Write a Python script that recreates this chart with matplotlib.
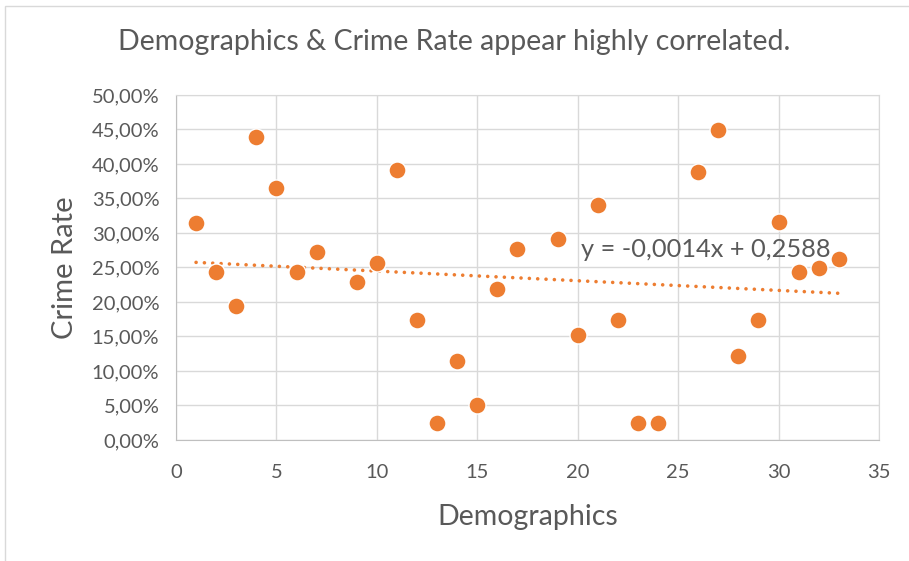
import numpy as np
import matplotlib.pyplot as plt
from matplotlib.patches import Rectangle
from matplotlib.ticker import FuncFormatter, MultipleLocator

# data
demographics = [1, 2, 3, 4, 5, 6, 7, 9, 10, 11, 12, 13, 14, 15, 16, 17,
                19, 20, 21, 22, 23, 24, 26, 27, 28, 29, 30, 31, 32, 33]
crime_rate = [0.315, 0.243, 0.194, 0.439, 0.365, 0.243, 0.272, 0.229, 0.256, 0.391,
              0.174, 0.024, 0.115, 0.050, 0.219, 0.277,
              0.292, 0.152, 0.341, 0.174, 0.024, 0.025, 0.389, 0.449, 0.121,
              0.174, 0.316, 0.243, 0.249, 0.263]
trend_slope = -0.0014
trend_intercept = 0.2588

orange = '#ED7D31'
grey_txt = '#595959'
grid_col = '#D9D9D9'

plt.rcParams['font.family'] = ['Lato', 'DejaVu Sans']

fig = plt.figure(figsize=(9.09, 5.61), dpi=100)
fig.patches.append(Rectangle((0.006, -0.01), 1.0, 1.0, transform=fig.transFigure,
                             fill=False, edgecolor=grid_col, linewidth=1.0))
ax = fig.add_axes([0.1936, 0.2157, 0.7734, 0.615])

x = np.array(demographics)
y = np.array(crime_rate)
ax.scatter(x, y, s=150, color=orange, edgecolor='white', linewidth=1.0, zorder=3)

x_trend = np.array([x.min(), x.max()])
ax.plot(x_trend, trend_slope * x_trend + trend_intercept, color=orange,
        linestyle=(0, (0.01, 2.3)), linewidth=2.6, dash_capstyle='round', zorder=2)
ax.text(26.4, 0.276, 'y = -0,0014x + 0,2588', ha='center', va='center',
        fontsize=18.3, color=grey_txt, zorder=4)

ax.set_xlim(0, 35)
ax.set_ylim(0, 0.5)
ax.xaxis.set_major_locator(MultipleLocator(5))
ax.yaxis.set_major_locator(MultipleLocator(0.05))
ax.yaxis.set_major_formatter(FuncFormatter(lambda v, pos: ('%.2f%%' % (v * 100)).replace('.', ',')))
ax.grid(True, color=grid_col, linewidth=1.0, zorder=0)
ax.set_axisbelow(True)
for side in ['top', 'right', 'left', 'bottom']:
    ax.spines[side].set_color(grid_col)
ax.spines['left'].set_color('#BFBFBF')
ax.spines['bottom'].set_color('#BFBFBF')
ax.tick_params(length=0, labelsize=14.5, colors=grey_txt)
ax.tick_params(axis='x', pad=17)
ax.tick_params(axis='y', pad=12)

ax.set_xlabel('Demographics', fontsize=20.5, color=grey_txt, labelpad=17)
ax.set_ylabel('Crime Rate', fontsize=21, color=grey_txt, labelpad=10)
fig.text(0.5, 0.925, 'Demographics & Crime Rate appear highly correlated.',
         ha='center', va='center', fontsize=20.5, color=grey_txt)

plt.savefig('out.png', dpi=100)
